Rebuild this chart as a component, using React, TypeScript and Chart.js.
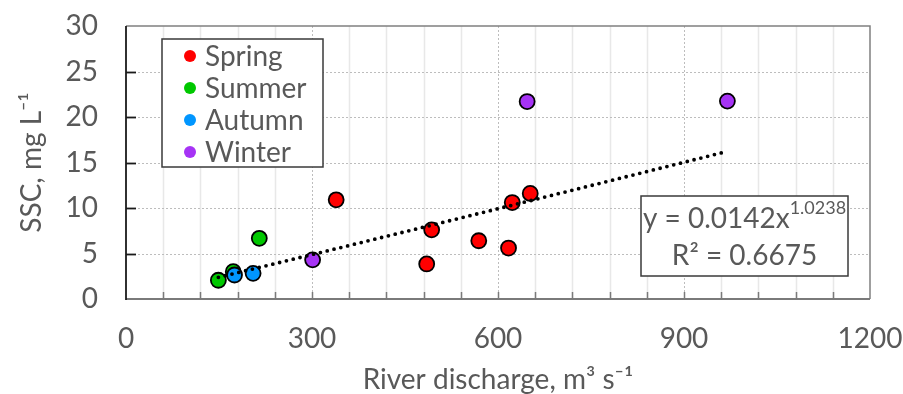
import React, { useEffect, useRef } from 'react';
import { Chart, registerables } from 'chart.js';

Chart.register(...registerables);

// ---- data ----
const seasonNames = ['Spring', 'Summer', 'Autumn', 'Winter'];
const seasonColors = ['#FF0000', '#00C800', '#0096FF', '#A633F5'];
const springX = [339, 493, 485, 569, 617, 623, 652];
const springY = [10.9, 7.6, 3.85, 6.4, 5.6, 10.6, 11.6];
const summerX = [149, 215, 173];
const summerY = [2.06, 6.67, 3.0];
const autumnX = [175, 205];
const autumnY = [2.64, 2.82];
const winterX = [301, 647, 970];
const winterY = [4.3, 21.7, 21.75];
const trendA = 0.0142;
const trendB = 1.0238;
const trendR2 = 0.6675;
const xLabelValues = [0, 300, 600, 900, 1200];
const xMin = 0, xMax = 1200, xMinorStep = 60, xMajorStep = 300;
const yMin = 0, yMax = 30, yStep = 5;
const xTitle = 'River discharge, m³ s⁻¹';
const yTitle = 'SSC, mg L⁻¹';

const FONT = 'Lato';
const FS = 28;
const TEXT = '#595959';

function pts(xs: number[], ys: number[]) {
  return xs.map((v, i) => ({ x: v, y: ys[i] }));
}

const allX = [...springX, ...summerX, ...autumnX, ...winterX];
const trendStart = Math.min(...allX);
const trendEnd = Math.max(...allX);
const trendPts: { x: number; y: number }[] = [];
for (let i = 0; i <= 60; i++) {
  const xv = trendStart + ((trendEnd - trendStart) * i) / 60;
  trendPts.push({ x: xv, y: trendA * Math.pow(xv, trendB) });
}

const decor = {
  id: 'decor',
  beforeDatasetsDraw(chart: any) {
    const { ctx, chartArea: a, scales } = chart;
    const x = scales.x, y = scales.y;
    ctx.save();
    for (let v = xMin + xMinorStep; v < xMax; v += xMinorStep) {
      const px = Math.round(x.getPixelForValue(v)) + 0.5;
      ctx.beginPath();
      if (v % xMajorStep === 0) {
        ctx.strokeStyle = '#BDBDBD';
        ctx.lineWidth = 1;
        ctx.setLineDash([2, 2]);
      } else {
        ctx.strokeStyle = '#E8E8E8';
        ctx.lineWidth = 1.5;
        ctx.setLineDash([]);
      }
      ctx.moveTo(px, a.top);
      ctx.lineTo(px, a.bottom);
      ctx.stroke();
    }
    ctx.strokeStyle = '#BDBDBD';
    ctx.lineWidth = 1;
    ctx.setLineDash([2, 2]);
    for (let v = yMin + yStep; v < yMax; v += yStep) {
      const py = Math.round(y.getPixelForValue(v)) + 0.5;
      ctx.beginPath();
      ctx.moveTo(a.left, py);
      ctx.lineTo(a.right, py);
      ctx.stroke();
    }
    ctx.setLineDash([]);
    ctx.strokeStyle = '#808080';
    ctx.lineWidth = 1.5;
    ctx.beginPath();
    ctx.moveTo(a.left, a.top);
    ctx.lineTo(a.right, a.top);
    ctx.lineTo(a.right, a.bottom);
    ctx.stroke();
    ctx.strokeStyle = '#7A7A7A';
    ctx.lineWidth = 2;
    ctx.beginPath();
    ctx.moveTo(a.left, a.bottom);
    ctx.lineTo(a.right, a.bottom);
    ctx.stroke();
    ctx.lineWidth = 1.5;
    for (let v = xMin + xMinorStep; v < xMax; v += xMinorStep) {
      const px = Math.round(x.getPixelForValue(v)) + 0.5;
      ctx.beginPath();
      ctx.moveTo(px, a.bottom);
      ctx.lineTo(px, a.bottom - 7);
      ctx.stroke();
    }
    ctx.strokeStyle = '#1A1A1A';
    ctx.lineWidth = 1.8;
    ctx.beginPath();
    ctx.moveTo(a.left, a.top);
    ctx.lineTo(a.left, a.bottom + 1);
    ctx.stroke();
    for (let v = yMin + yStep; v < yMax; v += yStep) {
      const py = Math.round(y.getPixelForValue(v)) + 0.5;
      ctx.beginPath();
      ctx.moveTo(a.left, py);
      ctx.lineTo(a.left + 10, py);
      ctx.stroke();
    }
    ctx.restore();
  },
  afterDraw(chart: any) {
    const { ctx } = chart;
    ctx.save();
    const lx = 162, ly = 39, lw = 161, lh = 128;
    ctx.fillStyle = '#FFFFFF';
    ctx.fillRect(lx, ly, lw, lh);
    ctx.strokeStyle = '#3A3A3A';
    ctx.lineWidth = 1.5;
    ctx.strokeRect(lx, ly, lw, lh);
    ctx.font = `${FS}px ${FONT}`;
    ctx.textBaseline = 'middle';
    ctx.textAlign = 'left';
    seasonNames.forEach((n, i) => {
      const cy = 56 + i * 32;
      ctx.fillStyle = seasonColors[i];
      ctx.beginPath();
      ctx.arc(190, cy, 6, 0, Math.PI * 2);
      ctx.fill();
      ctx.fillStyle = TEXT;
      ctx.fillText(n, 205, cy + 1);
    });
    const ex = 641, ey = 196, ew = 207, eh = 80;
    ctx.fillStyle = '#FFFFFF';
    ctx.fillRect(ex, ey, ew, eh);
    ctx.strokeStyle = '#3A3A3A';
    ctx.strokeRect(ex, ey, ew, eh);
    const cx = ex + ew / 2;
    const main = `y = ${trendA}x`;
    const sup = `${trendB}`;
    ctx.font = `${FS}px ${FONT}`;
    const wMain = ctx.measureText(main).width;
    ctx.font = `18px ${FONT}`;
    const wSup = ctx.measureText(sup).width;
    const start = cx - (wMain + wSup) / 2;
    ctx.fillStyle = TEXT;
    ctx.textBaseline = 'alphabetic';
    ctx.font = `${FS}px ${FONT}`;
    ctx.fillText(main, start, 228);
    ctx.font = `18px ${FONT}`;
    ctx.fillText(sup, start + wMain, 214);
    ctx.font = `${FS}px ${FONT}`;
    ctx.textAlign = 'center';
    ctx.fillText(`R² = ${trendR2}`, cx, 265);
    ctx.restore();
  },
};

export default function App() {
  const ref = useRef<HTMLCanvasElement>(null);
  useEffect(() => {
    if (!ref.current) return;
    const tickFont = { family: FONT, size: FS };
    const mk = (i: number, xs: number[], ys: number[], order: number) => ({
      type: 'scatter' as const,
      label: seasonNames[i],
      data: pts(xs, ys),
      backgroundColor: seasonColors[i],
      borderColor: '#000000',
      borderWidth: 1.8,
      pointRadius: 7.5,
      order,
    });
    const chart = new Chart(ref.current, {
      type: 'scatter',
      data: {
        datasets: [
          {
            type: 'line',
            label: 'trend',
            data: trendPts,
            borderColor: '#000000',
            borderWidth: 3.8,
            borderDash: [0, 7],
            borderCapStyle: 'round',
            pointRadius: 0,
            fill: false,
            tension: 0,
            order: 0,
          } as any,
          mk(0, springX, springY, 1),
          mk(2, autumnX, autumnY, 2),
          mk(1, summerX, summerY, 3),
          mk(3, winterX, winterY, 4),
        ],
      },
      options: {
        animation: false,
        responsive: false,
        maintainAspectRatio: false,
        layout: { padding: { left: 0, right: 33, top: 26, bottom: 0 } },
        plugins: { legend: { display: false }, tooltip: { enabled: false } },
        scales: {
          x: {
            type: 'linear',
            min: xMin,
            max: xMax,
            afterFit: (s: any) => {
              s.height = 95;
            },
            afterBuildTicks: (s: any) => {
              const t = [];
              for (let v = xMin; v <= xMax; v += xMinorStep) t.push({ value: v });
              s.ticks = t;
            },
            ticks: {
              autoSkip: false,
              maxRotation: 0,
              padding: 0,
              color: TEXT,
              font: tickFont,
              callback: (v: any) => (xLabelValues.includes(Number(v)) ? String(v) : ''),
            },
            grid: { display: false, drawTicks: true, tickLength: 23 },
            border: { display: false },
            title: {
              display: true,
              text: xTitle,
              color: TEXT,
              font: { family: FONT, size: FS, lineHeight: 1 },
              padding: { top: 0, bottom: 0 },
            },
          },
          y: {
            type: 'linear',
            min: yMin,
            max: yMax,
            afterFit: (s: any) => {
              s.width = 126;
            },
            ticks: { stepSize: yStep, padding: 0, color: TEXT, font: tickFont },
            grid: { display: false, drawTicks: true, tickLength: 28 },
            border: { display: false },
            title: {
              display: true,
              text: yTitle,
              color: TEXT,
              font: { family: FONT, size: FS, lineHeight: 1 },
              padding: { top: 18, bottom: 0 },
            },
          },
        },
      },
      plugins: [decor],
    });
    return () => chart.destroy();
  }, []);
  return (
    <div style={{ position: 'absolute', left: 0, top: 0, width: 903, height: 394, background: '#fff' }}>
      <canvas ref={ref} width={903} height={394} style={{ width: 903, height: 394 }} />
    </div>
  );
}
